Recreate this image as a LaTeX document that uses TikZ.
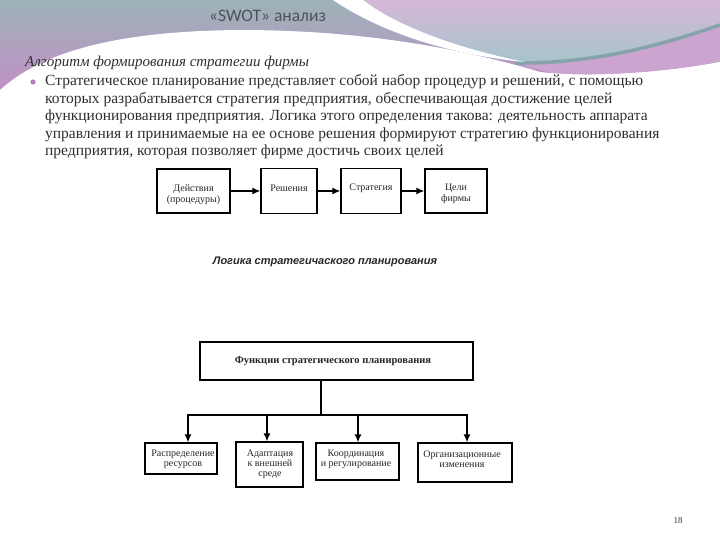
\documentclass[tikz,border=0pt]{standalone}
\usepackage{fontspec}
\setmainfont{Liberation Serif}
\newfontfamily\titlefont{Carlito}
\newfontfamily\capfont{Liberation Sans}
\usetikzlibrary{arrows.meta}
\definecolor{hteal}{HTML}{9CB2B7}
\definecolor{hpurple}{HTML}{C48FC8}
\definecolor{rlav}{HTML}{D5B8D8}
\definecolor{rteal}{HTML}{A6C4CB}
\definecolor{rstripe}{HTML}{86A3AC}
\definecolor{rpink}{HTML}{CBA5CF}
\definecolor{titlegrey}{HTML}{4B5458}
\definecolor{bodygrey}{HTML}{2F2F2F}
\definecolor{bulletc}{HTML}{B47DB9}
\begin{document}
\begin{tikzpicture}[x=1pt,y=-1pt,
  box/.style={draw=black, line width=1.1pt, fill=white, inner sep=0pt},
  arr/.style={line width=1.9pt, -{Latex[length=8pt,width=7pt]}},
  link/.style={line width=1.9pt},
  dtext/.style={font=\fontsize{10}{11}\selectfont, align=center, text=black!85, inner sep=0pt},
  btext/.style={font=\fontsize{10}{10.2}\selectfont, align=center, text=black!85, inner sep=0pt},
  body/.style={anchor=west, font=\fontsize{15.5}{17}\selectfont, text=bodygrey, inner sep=0pt},
]
\useasboundingbox (0,0) rectangle (720,540);
\fill[white] (0,0) rectangle (720,540);
% header band
\shade[top color=hteal, bottom color=hpurple] (0,0) rectangle (560,95);
\shade[top color=rlav, bottom color=rteal]
  (338,0) -- (720,0) -- (720,28) .. controls (650,50) and (580,63) .. (525,63)
  .. controls (450,50) and (390,28) .. (338,0) -- cycle;
\fill[rpink] (515,63) .. controls (600,64) and (670,42) .. (720,25) -- (720,62)
  .. controls (680,70) and (620,76) .. (560,75) -- cycle;
\draw[rstripe, line width=3.5pt] (515,63) .. controls (600,64) and (670,42) .. (720,25);
\fill[white] (333,0) .. controls (380,32) and (450,55) .. (525,62)
  .. controls (455,48) and (395,25) .. (363,0) -- cycle;
\fill[white] (0,90) .. controls (40,54) and (110,31) .. (240,30)
  .. controls (360,30) and (460,48) .. (540,72)
  .. controls (600,79) and (680,70) .. (720,62) -- (720,120) -- (0,120) -- cycle;
% title
\node[anchor=west, inner sep=0pt, font=\titlefont\fontsize{17.5}{20}\selectfont, text=titlegrey] (title) at (209,16) {«SWOT» анализ};
% body text
\node[anchor=west, inner sep=0pt, font=\fontsize{15}{17}\selectfont\itshape, text=bodygrey] (sub) at (25,63) {Алгоритм формирования стратегии фирмы};
\fill[bulletc] (33,82) circle (2.6);
\node[body] (l1) at (45,82) {Стратегическое планирование представляет собой набор процедур и решений, с помощью};
\node[body] (l2) at (45,99.5) {которых разрабатывается стратегия предприятия, обеспечивающая достижение целей};
\node[body] (l3) at (45,117) {функционирования предприятия. Логика этого определения такова: деятельность аппарата};
\node[body] (l4) at (45,134.5) {управления и принимаемые на ее основе решения формируют стратегию функционирования};
\node[body] (l5) at (45,152) {предприятия, которая позволяет фирме достичь своих целей};
% top diagram
\node[box, minimum width=73pt, minimum height=44pt] (a1) at (193.5,191) {};
\node[box, minimum width=56pt, minimum height=45pt] (a2) at (289,191) {};
\node[box, minimum width=60pt, minimum height=45pt] (a3) at (371,191) {};
\node[box, minimum width=62pt, minimum height=44pt] (a4) at (456,191) {};
\node[dtext] (ta1) at (193.5,195) {Действия\\(процедуры)};
\node[dtext] (ta2) at (289,188) {Решения};
\node[dtext] (ta3) at (371,188) {Стратегия};
\node[dtext] (ta4) at (456,194) {Цели\\фирмы};
\draw[arr] (a1.east) -- (a2.west);
\draw[arr] (a2.east) -- (a3.west);
\draw[arr] (a3.east) -- (a4.west);
\node[inner sep=0pt, font=\capfont\bfseries\itshape\fontsize{11}{13}\selectfont, text=black!85] (cap) at (325,262) {Логика стратегичаского планирования};
% bottom diagram
\node[box, minimum width=273pt, minimum height=38pt] (b0) at (336.5,361) {};
\node[inner sep=0pt, font=\bfseries\fontsize{10.5}{12}\selectfont, text=black!85] (tb0) at (333,361) {Функции стратегического планирования};
\node[box, minimum width=72pt, minimum height=31pt] (b1) at (181,458.5) {};
\node[box, minimum width=67pt, minimum height=45pt] (b2) at (269.5,464.5) {};
\node[box, minimum width=83pt, minimum height=37pt] (b3) at (357.5,461.5) {};
\node[box, minimum width=94pt, minimum height=39pt] (b4) at (465,462.5) {};
\node[btext] (tb1) at (183,459) {Распределение\\ресурсов};
\node[btext] (tb2) at (270,464) {Адаптация\\к внешней\\среде};
\node[btext] (tb3) at (356,459) {Координация\\и регулирование};
\node[btext] (tb4) at (462,459) {Организационные\\изменения};
\coordinate (jc) at (321,415);
\coordinate (j1) at (188,415);
\coordinate (j2) at (267,415);
\coordinate (j3) at (358,415);
\coordinate (j4) at (467,415);
\draw[link] (b0.south -| jc) -- (jc);
\draw[link, line cap=rect] (j1) -- (j4);
\draw[arr] (j1) -- (j1 |- b1.north);
\draw[arr] (j2) -- (j2 |- b2.north);
\draw[arr] (j3) -- (j3 |- b3.north);
\draw[arr] (j4) -- (j4 |- b4.north);
% page number
\node[inner sep=0pt, font=\fontsize{9}{10}\selectfont, text=black!80] (pg) at (678,521) {18};
\end{tikzpicture}
\end{document}
